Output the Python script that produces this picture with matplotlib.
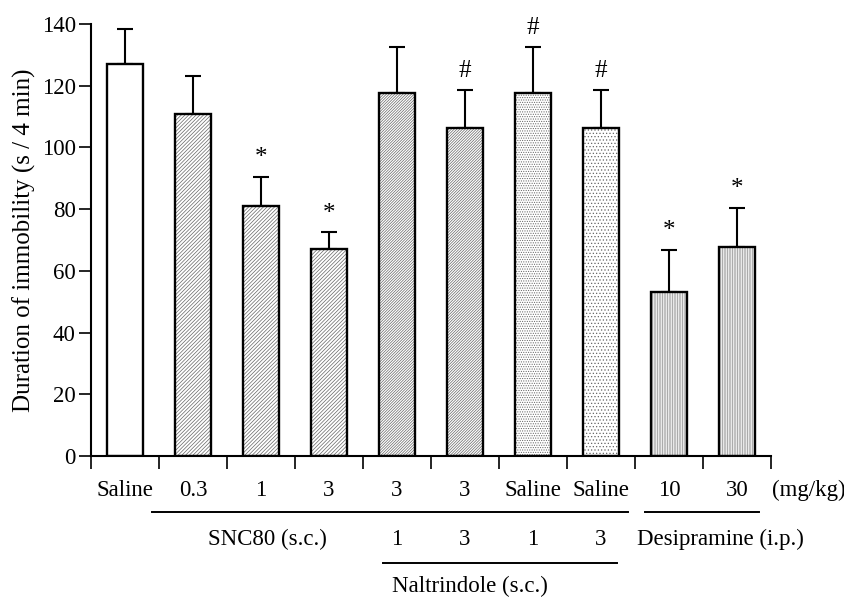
import numpy as np
import matplotlib
matplotlib.use("Agg")
import matplotlib.pyplot as plt

plt.rcParams['font.family'] = ['Liberation Serif', 'DejaVu Serif']
plt.rcParams['hatch.linewidth'] = 0.5

doses = ['Saline', '0.3', '1', '3', '3', '3', 'Saline', 'Saline', '10', '30']
means = [127, 110.8, 81, 67.2, 117.5, 106.3, 117.5, 106.3, 53, 67.7]
sems = [11.4, 12.4, 9.5, 5.3, 15.0, 12.3, 15.0, 12.3, 13.8, 12.6]
marks = ['', '', '*', '*', '', '#', '#', '#', '*', '*']
hatches = ['', '/' * 9, '/' * 9, '/' * 9, '/' * 12, '/' * 12,
           '.' * 7, '.' * 5, '|' * 10, '|' * 10]
hatch_cols = ['#666666'] * 8 + ['#888888'] * 2
naltrindole = ['1', '3', '1', '3']

fs = 16.5

fig = plt.figure(figsize=(8.45, 5.98), dpi=100)
ax = fig.add_axes([0.1077, 0.2375, 0.8047, 0.7224])

x = np.arange(len(means))
for i in range(len(means)):
    # hatch in grey, outline in black on top
    ax.bar(x[i], means[i], width=0.52, color='white', edgecolor=hatch_cols[i],
           linewidth=0, hatch=hatches[i], zorder=2)
    ax.bar(x[i], means[i], width=0.52, color='none', edgecolor='black',
           linewidth=1.7, zorder=3)
    ax.errorbar(x[i], means[i], yerr=[[0], [sems[i]]], fmt='none',
                ecolor='black', elinewidth=1.5, capsize=5.5, capthick=1.5, zorder=1)
    if marks[i]:
        ax.text(x[i], means[i] + sems[i] + 2.5, marks[i], ha='center', va='bottom',
                fontsize=18)

ax.set_xlim(-0.5, 9.5)
ax.set_ylim(0, 140)
ax.set_yticks(range(0, 141, 20))
ax.set_xticks(np.arange(-0.5, 10, 1))
ax.set_xticklabels([])
ax.spines['top'].set_visible(False)
ax.spines['right'].set_visible(False)
ax.spines['left'].set_linewidth(1.5)
ax.spines['bottom'].set_linewidth(1.5)
ax.tick_params(axis='both', direction='out', length=9, width=1.2, labelsize=fs, pad=2)
ax.set_ylabel('Duration of immobility (s / 4 min)', fontsize=18, labelpad=4)

tr = ax.get_xaxis_transform()
for i, d in enumerate(doses):
    ax.text(x[i], -0.079, d, transform=tr, ha='center', va='center', fontsize=fs)
ax.text(9.52, -0.079, '(mg/kg)', transform=tr, ha='left', va='center',
        fontsize=fs, clip_on=False)

ax.plot([0.4, 7.4], [-0.130, -0.130], transform=tr, color='black', lw=1.4, clip_on=False)
ax.plot([7.64, 9.32], [-0.130, -0.130], transform=tr, color='black', lw=1.4, clip_on=False)
ax.text(2.09, -0.194, 'SNC80 (s.c.)', transform=tr, ha='center', va='center', fontsize=fs)
ax.text(8.76, -0.194, 'Desipramine (i.p.)', transform=tr, ha='center', va='center',
        fontsize=fs, clip_on=False)
for i, n in enumerate(naltrindole):
    ax.text(x[i + 4], -0.194, n, transform=tr, ha='center', va='center', fontsize=fs)
ax.plot([3.79, 7.24], [-0.248, -0.248], transform=tr, color='black', lw=1.4, clip_on=False)
ax.text(5.07, -0.303, 'Naltrindole (s.c.)', transform=tr, ha='center', va='center',
        fontsize=fs)

fig.savefig('out.png', dpi=100)
